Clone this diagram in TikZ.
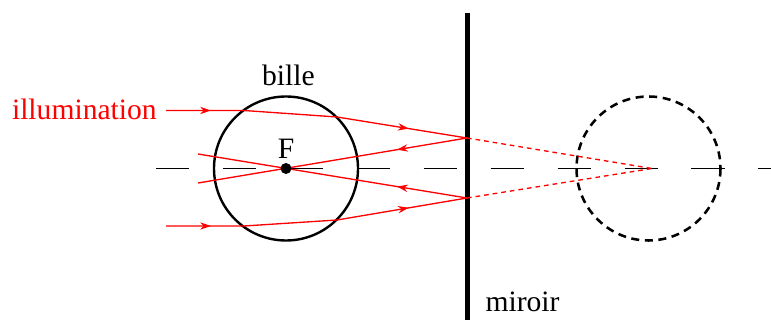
\documentclass[tikz,border=0pt]{standalone}
\usepackage{fontspec}
\setmainfont{Liberation Serif}
\usetikzlibrary{decorations.markings,arrows.meta}
\tikzset{
  x=0.75pt,y=-0.75pt,
  axisline/.style={line width=0.8pt,dash pattern=on 25.1pt off 25.1pt},
  ball/.style={line width=1.8pt},
  ballimage/.style={line width=1.9pt,dash pattern=on 6pt off 4.2pt},
  mirrorline/.style={line width=3.8pt},
  ray/.style={red,line width=1pt,line join=round},
  virtualray/.style={red,line width=1pt,dash pattern=on 3.5pt off 3pt},
  tipsat/.style 2 args={postaction={decorate,decoration={markings,
     mark=at position #1 with {\arrow{Stealth[length=8pt,width=5.5pt,red]}},
     mark=at position #2 with {\arrow{Stealth[length=8pt,width=5.5pt,red]}}}}},
  tipat/.style={postaction={decorate,decoration={markings,
     mark=at position #1 with {\arrow{Stealth[length=8pt,width=5.5pt,red]}}}}},
  label/.style={inner sep=0pt,font=\fontsize{22.2}{24}\selectfont},
}
\begin{document}
\begin{tikzpicture}
\useasboundingbox (0,0) rectangle (771,320);
% axis
\coordinate (axisL) at (156,168.5);
\coordinate (axisR) at (771,168.5);
\draw[axisline] (axisL) -- (axisR);
% balls
\coordinate (F) at (286,168.5);
\coordinate (Fimg) at (648.5,168.5);
\draw[ball] (F) circle (72);
\draw[ballimage] (Fimg) circle (72);
% mirror
\coordinate (mT) at (467.5,13);
\coordinate (mB) at (467.5,320);
\draw[mirrorline] (mT) -- (mB);
% ray points
\coordinate (a0) at (166,110.5);
\coordinate (a1) at (244,110.5);
\coordinate (a2) at (337,117);
\coordinate (a3) at (467,138);
\coordinate (b0) at (166,226);
\coordinate (b1) at (244,226);
\coordinate (b2) at (337,220);
\coordinate (b3) at (467,198);
\coordinate (c) at (198,183);
\coordinate (d) at (198,154);
\coordinate (v) at (652,168.5);
% rays
\draw[ray,tipsat={0.148}{0.805}] (a0) -- (a1) -- (a2) -- (a3);
\draw[ray,tipsat={0.148}{0.805}] (b0) -- (b1) -- (b2) -- (b3);
\draw[ray,tipat=0.26] (a3) -- (c);
\draw[ray,tipat=0.26] (b3) -- (d);
\draw[virtualray] (a3) -- (v);
\draw[virtualray] (b3) -- (v);
% focus
\fill (F) circle (5.5);
% labels
\node[label,text=red,anchor=base east] (illum) at (157,119.5) {illumination};
\node[label,anchor=base] (bille) at (288.5,85.5) {bille};
\node[label,anchor=base] (Flab) at (286,158.5) {F};
\node[label,anchor=base] (miroir) at (522.5,311) {miroir};
\end{tikzpicture}
\end{document}
